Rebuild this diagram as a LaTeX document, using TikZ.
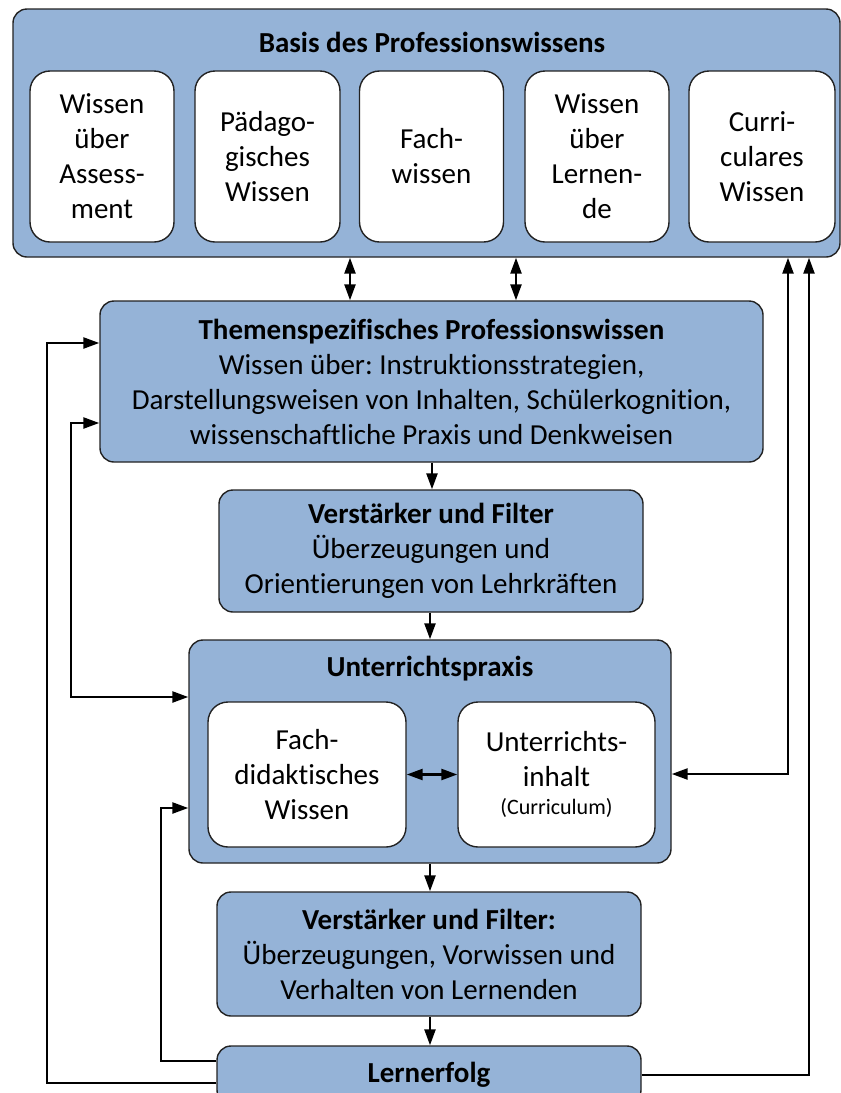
\documentclass[tikz,border=0pt]{standalone}
\usepackage{fontspec}
\setmainfont[Ligatures={NoCommon}]{Carlito}
\usetikzlibrary{arrows.meta}
\definecolor{boxblue}{HTML}{95B3D7}
\definecolor{edge}{HTML}{222222}
\frenchspacing
\begin{document}
\begin{tikzpicture}[x=1pt,y=-1pt,
  bluebox/.style={draw=edge, line width=1.4pt, fill=boxblue, rounded corners=14pt, inner sep=0pt, align=center, font=\fontsize{29}{35}\selectfont},
  whitebox/.style={draw=edge, line width=1.4pt, fill=white, rounded corners=20pt, inner sep=0pt, align=center, font=\fontsize{29}{35}\selectfont},
  titletext/.style={inner sep=0pt, align=center, font=\fontsize{29}{35}\selectfont\bfseries},
  conn/.style={line width=2.4pt, -{Triangle[length=16pt,width=11pt]}},
  dconn/.style={line width=2.4pt, {Triangle[length=16pt,width=11pt]}-{Triangle[length=16pt,width=11pt]}},
]
\clip (0,0) rectangle (841,1093);
\fill[white] (0,0) rectangle (841,1093);

% top box
\node[bluebox, minimum width=827pt, minimum height=248pt] (basis) at (426.5,133) {};
\node[titletext] (basistitle) at (432,42) {Basis des Professionswissens};
\node[whitebox, minimum width=144pt, minimum height=171pt] (b1) at (102,156.5) {Wissen\\über\\Assess-\\ment};
\node[whitebox, minimum width=145pt, minimum height=171pt] (b2) at (267.5,156.5) {Pädago-\\gisches\\Wissen};
\node[whitebox, minimum width=144pt, minimum height=171pt] (b3) at (431.5,156.5) {Fach-\\wissen};
\node[whitebox, minimum width=144pt, minimum height=171pt] (b4) at (597,156.5) {Wissen\\über\\Lernen-\\de};
\node[whitebox, minimum width=146pt, minimum height=171pt] (b5) at (762,156.5) {Curri-\\culares\\Wissen};

% themen
\node[bluebox, minimum width=663pt, minimum height=161pt] (themen) at (431.5,381.5)
  {\textbf{Themenspezifisches Professionswissen}\\Wissen über: Instruktionsstrategien,\\Darstellungsweisen von Inhalten, Schülerkognition,\\wissenschaftliche Praxis und Denkweisen};

% verstaerker 1
\node[bluebox, minimum width=424pt, minimum height=122pt] (v1) at (431,551)
  {\textbf{Verstärker und Filter}\\Überzeugungen und\\Orientierungen von Lehrkräften};

% unterrichtspraxis
\node[bluebox, minimum width=482pt, minimum height=223pt] (unt) at (430,751.5) {};
\node[titletext] (unttitle) at (430,669) {Unterrichtspraxis};
\node[whitebox, minimum width=198pt, minimum height=145pt] (fd) at (307,774.5) {Fach-\\didaktisches\\Wissen};
\node[whitebox, minimum width=197pt, minimum height=145pt] (ui) at (556.5,774.5)
  {Unterrichts-\\inhalt\\[-7pt]{\fontsize{22}{26}\selectfont(Curriculum)}};

% verstaerker 2
\node[bluebox, minimum width=424pt, minimum height=124pt] (v2) at (429,954)
  {\textbf{Verstärker und Filter:}\\Überzeugungen, Vorwissen und\\Verhalten von Lernenden};

% lernerfolg
\node[bluebox, minimum width=424pt, minimum height=58pt] (lern) at (429,1075) {\textbf{Lernerfolg}};

% helper coordinates
\coordinate (c350) at (350,0);
\coordinate (c516) at (516,0);
\coordinate (c432) at (432,0);
\coordinate (c430) at (430,0);
\coordinate (r1) at (788,774);
\coordinate (r2) at (809,0);
\coordinate (k1) at (47,343);
\coordinate (h1083) at (0,1083);
\coordinate (k2a) at (71,423);
\coordinate (k2b) at (71,697);
\coordinate (k3a) at (161,1061);
\coordinate (k3b) at (161,808);

% vertical flow
\draw[dconn] (basis.south -| c350) -- (themen.north -| c350);
\draw[dconn] (basis.south -| c516) -- (themen.north -| c516);
\draw[conn] (themen.south -| c432) -- (v1.north -| c432);
\draw[conn] (v1.south -| c430) -- (unt.north -| c430);
\draw[conn] (unt.south -| c430) -- (v2.north -| c430);
\draw[conn] (v2.south -| c430) -- (lern.north -| c430);

% inner
\draw[dconn] (fd.east) -- (ui.west);

% right side
\draw[dconn] (unt.east |- r1) -- (r1) -- (basis.south -| r1);
\draw[conn] (lern.east) -| (basis.south -| r2);

% left side
\draw[conn] (lern.west |- h1083) -| (k1) -- (themen.west |- k1);
\draw[dconn] (themen.west |- k2a) -- (k2a) -- (k2b) -- (unt.west |- k2b);
\draw[conn] (lern.west |- k3a) -- (k3a) -- (k3b) -- (unt.west |- k3b);
\end{tikzpicture}
\end{document}
